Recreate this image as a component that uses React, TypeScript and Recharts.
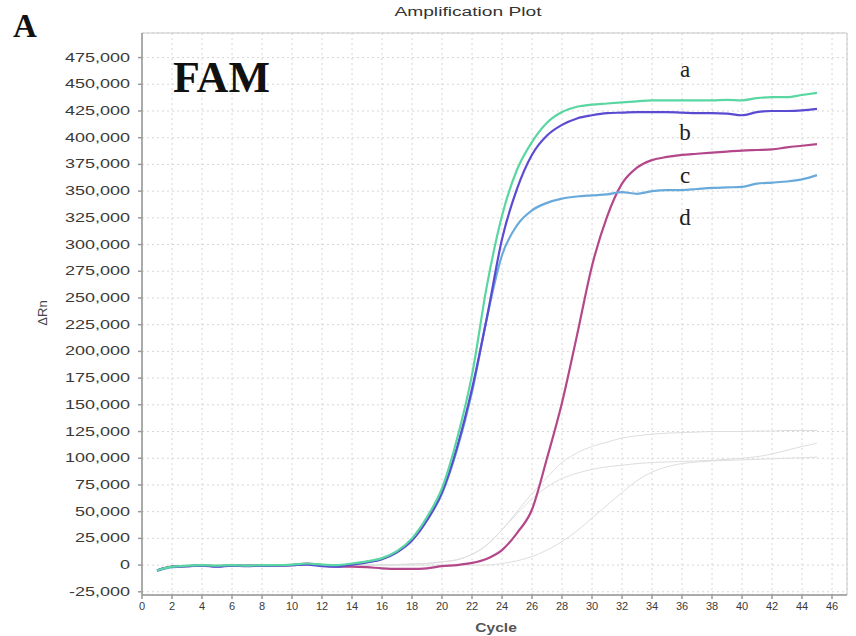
import React from 'react';
import { LineChart, Line, XAxis, YAxis, CartesianGrid, ReferenceArea } from 'recharts';

// cycle numbers
const cycles = [
  1, 2, 3, 4, 5, 6, 7, 8, 9, 10, 11, 12, 13, 14, 15, 16, 17, 18, 19, 20, 21, 22, 23,
  24, 25, 26, 27, 28, 29, 30, 31, 32, 33, 34, 35, 36, 37, 38, 39, 40, 41, 42, 43, 44, 45,
];

// ΔRn per cycle, one list per well
const wellA = [
  -5000, -1500, -500, 0, -500, 0, -500, 0, 0, 500,
  1500, 500, 0, 1500, 3500, 6500, 13000, 25000, 45000, 72000,
  118000, 178000, 262000, 327000, 370000, 396000, 414000, 424000, 429000, 431000,
  432000, 433000, 434000, 435000, 435000, 435000, 435000, 435000, 435500, 435000,
  437000, 438000, 438000, 440000, 442000,
];
const wellB = [
  -5000, -1500, -1000, -500, -1500, -500, -1000, -500, -500, 0,
  500, -1000, -1500, 500, 2500, 5500, 12000, 23000, 42000, 68000,
  110000, 165000, 232000, 305000, 352000, 384000, 402000, 412000, 418000, 421000,
  423000, 423500, 424000, 424000, 424000, 423500, 423000, 423000, 422500, 421000,
  424000, 425000, 425000, 425500, 427000,
];
const wellC = [
  -5500, -2000, -1000, -500, -1000, -500, -500, -500, 0, 0,
  1000, 0, -1000, 1000, 3000, 6000, 12500, 23500, 42000, 67000,
  108000, 162000, 232000, 290000, 318000, 332000, 339000, 343000, 345000, 346000,
  347000, 349000, 347500, 350000, 351000, 351000, 352000, 353000, 353500, 354000,
  357000, 358000, 359000, 361000, 365000,
];
const wellD = [
  -5000, -1500, -1000, -500, -1000, -500, -500, -500, -500, 0,
  1500, 0, -1500, -1500, -2000, -3000, -3500, -3500, -3000, -1000,
  0, 2000, 6000, 14000, 30000, 52000, 100000, 152000, 215000, 280000,
  326000, 357000, 372000, 379000, 382000, 384000, 385000, 386000, 387000, 388000,
  388500, 389000, 391000, 392500, 394000,
];
// other wells, drawn faint
const gray1 = [
  -5000, -1500, -500, 0, 0, 0, 0, 0, 0, 0,
  0, 0, 0, 0, 0, 0, 500, 1000, 1500, 3000,
  5000, 10000, 19000, 33000, 50000, 67000, 82000, 96000, 105000, 111000,
  115000, 119000, 121000, 122500, 123500, 124000, 124500, 125000, 125000, 125000,
  125500, 125500, 126000, 126000, 126000,
];
const gray2 = [
  -5000, -1500, -500, 0, 0, 0, 0, 0, 0, 0,
  0, 0, 0, 0, 0, 0, 500, 1000, 1500, 3000,
  5000, 10000, 19000, 33000, 48000, 62000, 73000, 81000, 86000, 89500,
  92000, 93500, 95000, 96000, 96500, 97000, 97500, 98000, 99000, 100000,
  101500, 104000, 107500, 111000, 114000,
];
const gray3 = [
  -5000, -1500, -500, 0, 0, 0, 0, 0, 0, 0,
  0, 0, 0, 0, 0, 0, 0, 0, 0, 0,
  0, 0, 0, 1500, 4000, 8000, 14000, 22000, 32000, 44000,
  56000, 68000, 79000, 87000, 92000, 95000, 96500, 97500, 98000, 98500,
  99000, 99500, 100000, 100500, 101000,
];

const xTicks = [0, 2, 4, 6, 8, 10, 12, 14, 16, 18, 20, 22, 24, 26, 28, 30, 32, 34, 36, 38, 40, 42, 44, 46];
const yTicks = [
  -25000, 0, 25000, 50000, 75000, 100000, 125000, 150000, 175000, 200000, 225000,
  250000, 275000, 300000, 325000, 350000, 375000, 400000, 425000, 450000, 475000,
];

const data = cycles.map((c, i) => ({
  cycle: c,
  a: wellA[i],
  b: wellB[i],
  c: wellC[i],
  d: wellD[i],
  g1: gray1[i],
  g2: gray2[i],
  g3: gray3[i],
}));

const sans = 'Liberation Sans, Arial, sans-serif';
const serif = 'Liberation Serif, Times New Roman, serif';

const YTick = ({ x, y, payload }: any) => (
  <g transform={`translate(${x},${y})`}>
    <text transform="scale(1.5,1)" textAnchor="end" dy={4} fontSize={12} fill="#3a3a3a" fontFamily={sans}>
      {payload.value.toLocaleString('en-US')}
    </text>
  </g>
);

const XTick = ({ x, y, payload }: any) => (
  <text x={x} y={y} dy={9} textAnchor="middle" fontSize={11} fill="#3a3a3a" fontFamily={sans}>
    {payload.value}
  </text>
);

const App = () => {
  return (
    <div style={{ position: 'absolute', left: 0, top: 0, width: 856, height: 636, background: '#fff' }}>
      <LineChart width={856} height={636} data={data} margin={{ top: 33, right: 9, bottom: 0, left: 0 }}>
        <CartesianGrid stroke="#d6d6d6" strokeDasharray="2 3" />
        <ReferenceArea x1={0} x2={47} y1={-28000} y2={498000} fill="none" stroke="#c8c8c8" />
        <XAxis
          dataKey="cycle"
          type="number"
          domain={[0, 47]}
          ticks={xTicks}
          interval={0}
          height={41}
          tickSize={4}
          tickMargin={2}
          stroke="#9a9a9a"
          strokeWidth={1.5}
          tick={<XTick />}
        />
        <YAxis
          type="number"
          domain={[-28000, 498000]}
          ticks={yTicks}
          interval={0}
          width={142}
          tickSize={4}
          tickMargin={8}
          stroke="#9a9a9a"
          strokeWidth={1.5}
          tick={<YTick />}
        />
        <Line dataKey="g1" type="monotone" stroke="#dedede" strokeWidth={1} dot={false} isAnimationActive={false} />
        <Line dataKey="g2" type="monotone" stroke="#dedede" strokeWidth={1} dot={false} isAnimationActive={false} />
        <Line dataKey="g3" type="monotone" stroke="#dedede" strokeWidth={1} dot={false} isAnimationActive={false} />
        <Line dataKey="d" type="monotone" stroke="#b4478a" strokeWidth={2.2} dot={false} isAnimationActive={false} />
        <Line dataKey="c" type="monotone" stroke="#6aaadb" strokeWidth={2.2} dot={false} isAnimationActive={false} />
        <Line dataKey="b" type="monotone" stroke="#5a4bd1" strokeWidth={2.2} dot={false} isAnimationActive={false} />
        <Line dataKey="a" type="monotone" stroke="#5ad6a2" strokeWidth={2.2} dot={false} isAnimationActive={false} />
      </LineChart>

      <svg width={856} height={636} style={{ position: 'absolute', left: 0, top: 0, pointerEvents: 'none' }}>
        <text x={13} y={37} fontFamily={serif} fontWeight="bold" fontSize={33} fill="#111">A</text>
        <g transform="translate(468,16) scale(1.6,1)">
          <text textAnchor="middle" fontFamily={sans} fontSize={12} fill="#333">Amplification Plot</text>
        </g>
        <text x={173} y={92} fontFamily={serif} fontWeight="bold" fontSize={44} fill="#111">FAM</text>
        <text x={685} y={77} textAnchor="middle" fontFamily={serif} fontSize={23} fill="#222">a</text>
        <text x={685} y={140} textAnchor="middle" fontFamily={serif} fontSize={23} fill="#222">b</text>
        <text x={685} y={183} textAnchor="middle" fontFamily={serif} fontSize={23} fill="#222">c</text>
        <text x={685} y={225} textAnchor="middle" fontFamily={serif} fontSize={23} fill="#222">d</text>
        <g transform="translate(47,313) rotate(-90)">
          <text textAnchor="middle" fontFamily={sans} fontSize={13} fill="#444">ΔRn</text>
        </g>
        <g transform="translate(496,632) scale(1.3,1)">
          <text textAnchor="middle" fontFamily={sans} fontWeight="bold" fontSize={12} fill="#555">Cycle</text>
        </g>
      </svg>
    </div>
  );
};

export default App;
